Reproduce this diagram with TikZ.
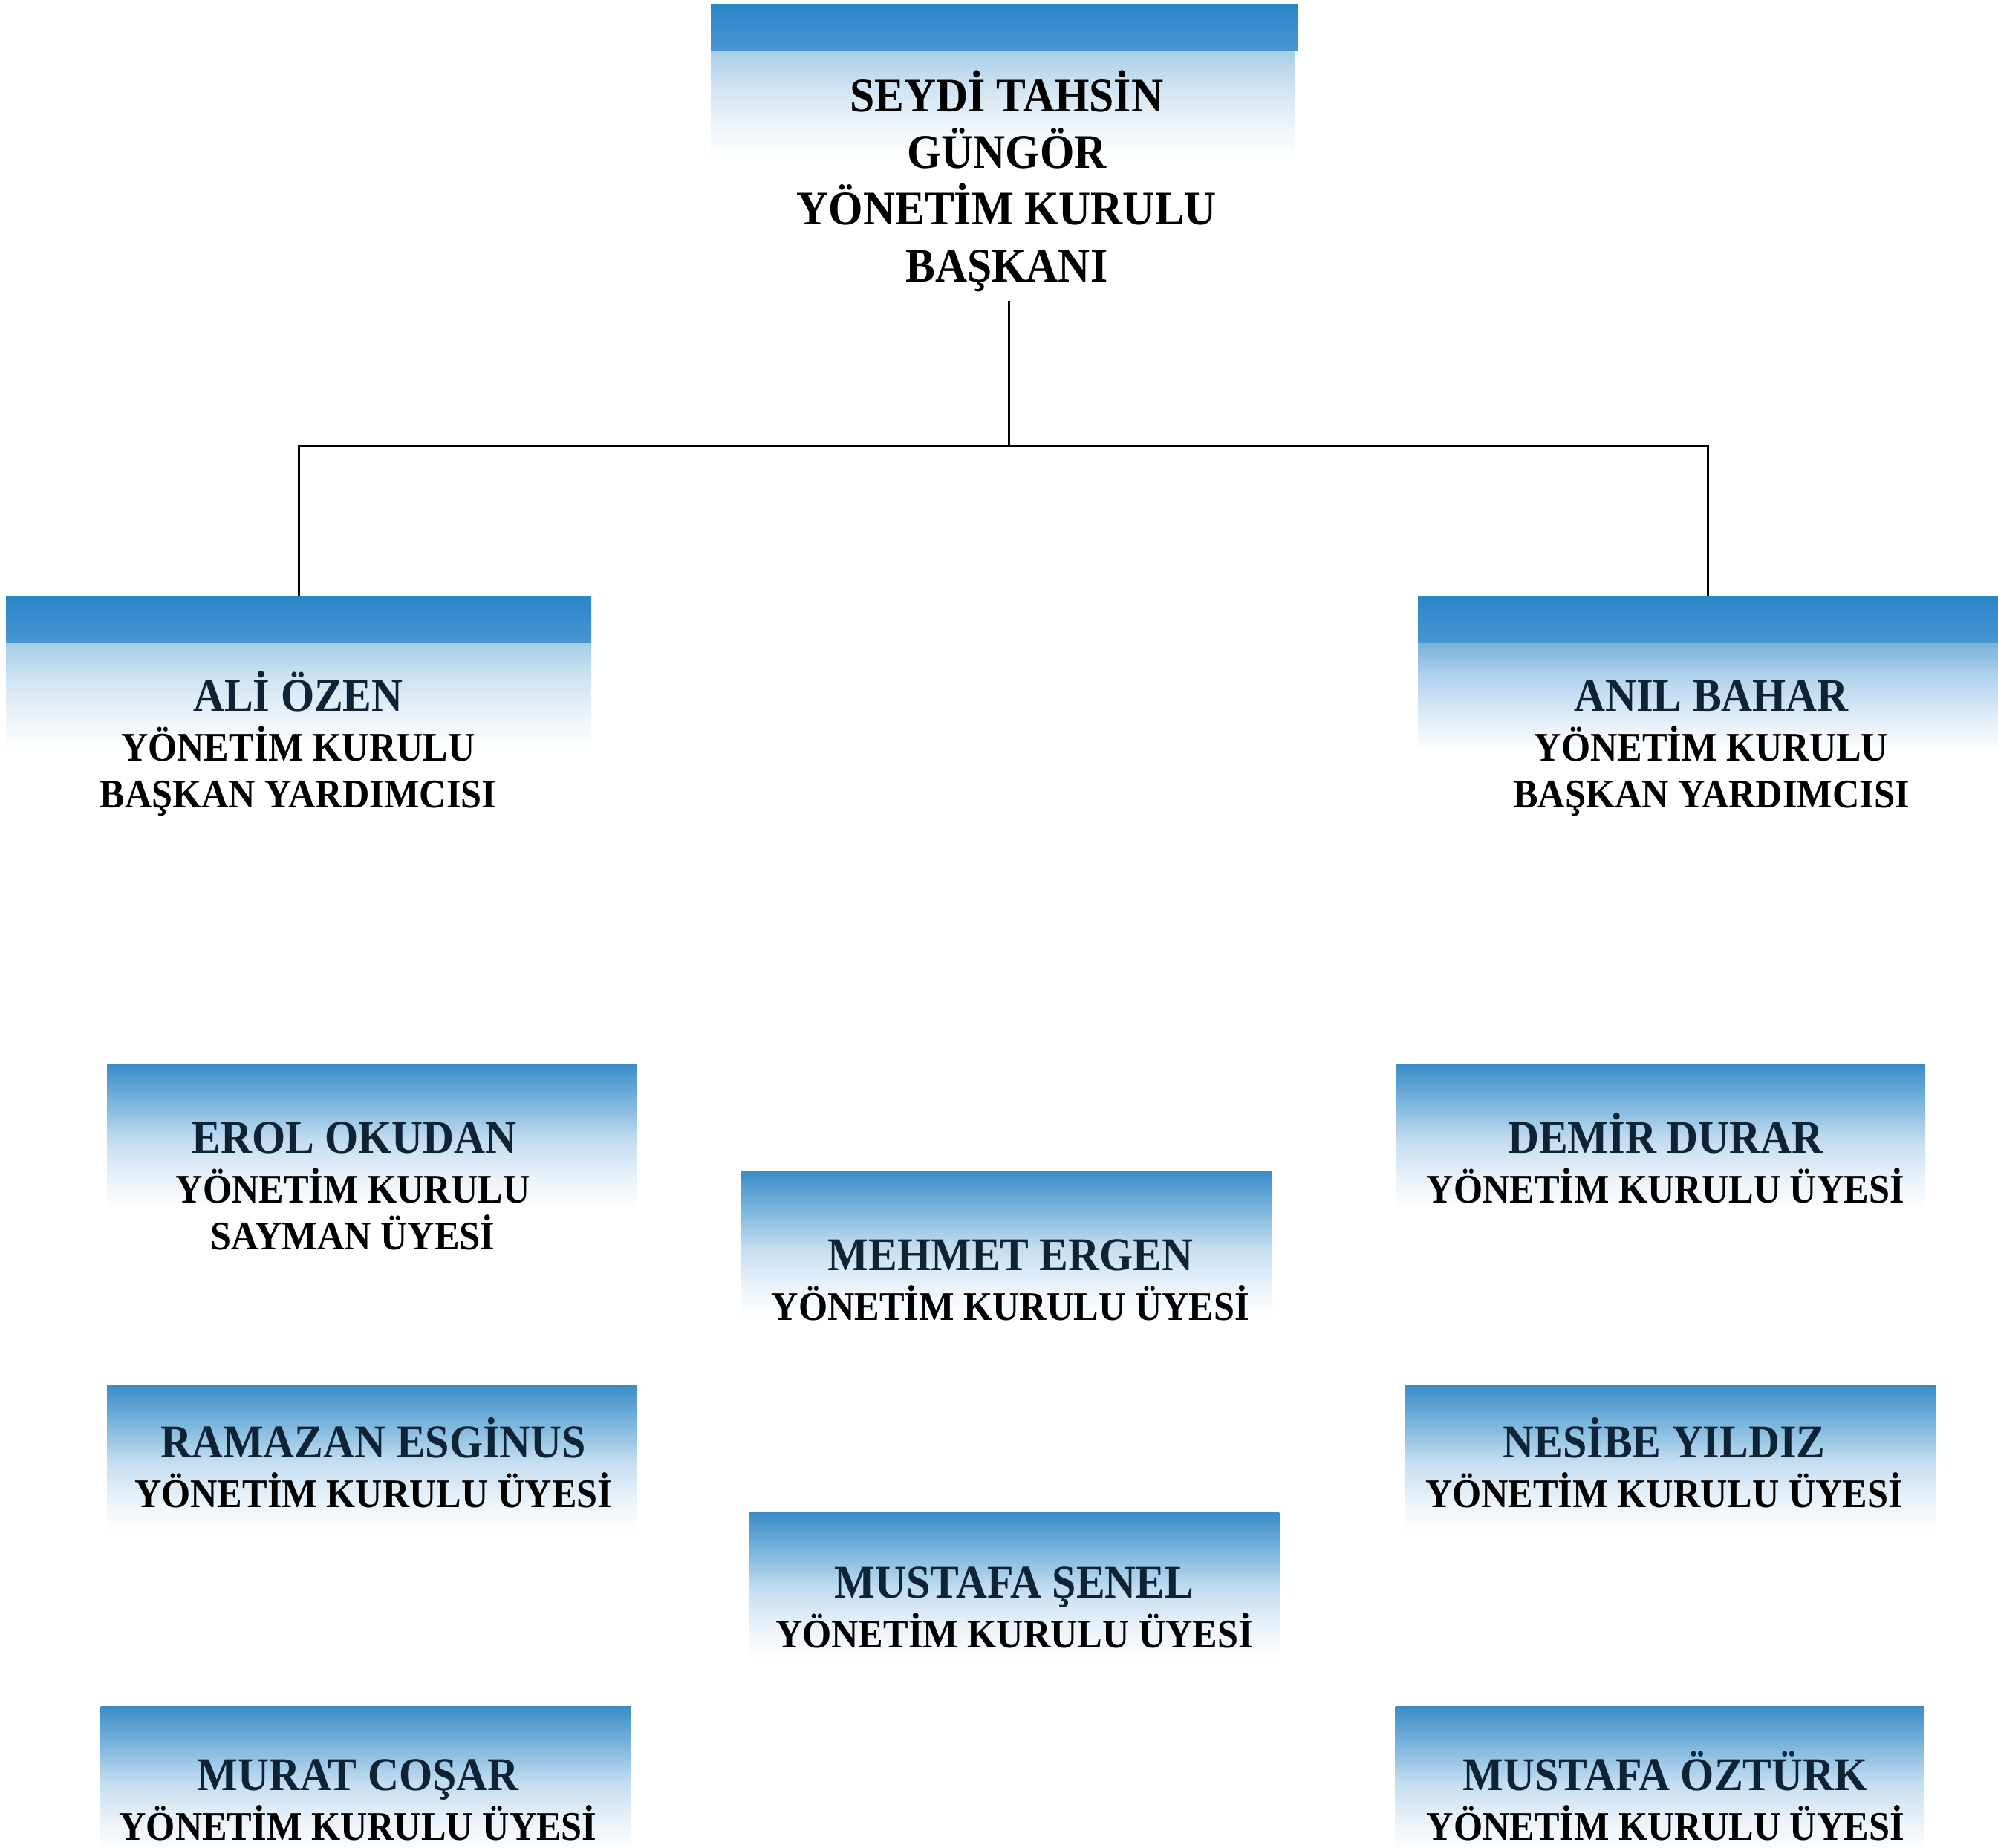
\documentclass[tikz,border=0pt]{standalone}
\usepackage{fontspec}
\setmainfont[FakeStretch=0.92]{Liberation Serif}
\usetikzlibrary{fit}
\definecolor{bandtop}{HTML}{2A86C7}
\definecolor{bandbot}{HTML}{4A95D2}
\definecolor{namecol}{HTML}{0F2337}
\definecolor{paleA}{HTML}{A8CDE8}
\definecolor{paleB}{HTML}{D2E5F3}
\definecolor{paleC}{HTML}{EEF5FB}
\definecolor{deepA}{HTML}{79B2DB}
\definecolor{deepB}{HTML}{B8D6EE}
\definecolor{deepC}{HTML}{E2EFF8}
\definecolor{fadeA}{HTML}{3A8CC8}
\definecolor{fadeB}{HTML}{7AB5DD}
\definecolor{fadeC}{HTML}{C4DDF0}
\definecolor{fadeD}{HTML}{EAF3FA}
\pgfdeclareverticalshading{headfade}{100bp}{color(0bp)=(white); color(27.8bp)=(white); color(41.7bp)=(paleC); color(58.3bp)=(paleB); color(75bp)=(paleA); color(100bp)=(paleA)}
\pgfdeclareverticalshading{headfadedeep}{100bp}{color(0bp)=(white); color(27.8bp)=(white); color(41.7bp)=(deepC); color(58.3bp)=(deepB); color(75bp)=(deepA); color(100bp)=(deepA)}
\pgfdeclareverticalshading{memberfade}{100bp}{color(0bp)=(white); color(30.8bp)=(white); color(40.4bp)=(fadeD); color(51.9bp)=(fadeC); color(63.5bp)=(fadeB); color(75bp)=(fadeA); color(100bp)=(fadeA)}
\begin{document}
\begin{tikzpicture}[x=0.0172cm, y=0.0172cm,
  blueband/.style={inner sep=0pt, top color=bandtop, bottom color=bandbot},
  paleshade/.style={inner sep=0pt, shade, shading=headfade},
  deepshade/.style={inner sep=0pt, shade, shading=headfadedeep},
  memberbox/.style={inner sep=0pt, shade, shading=memberfade},
  chairtext/.style={anchor=base, font=\fontsize{18.5}{22}\selectfont\bfseries},
  nametext/.style={anchor=base, text=namecol, font=\fontsize{18}{22}\selectfont\bfseries},
  titletext/.style={anchor=base, font=\fontsize{15.6}{19}\selectfont\bfseries},
  link/.style={line width=1pt}]
\path[use as bounding box, fill=white] (0,0) rectangle (1568,-1450);

\path node[blueband, fit={(558,-3) (1018,-40)}] (chairband) {}
      node[paleshade, fit={(558,-40) (1016,-130)}] (chairfade) {}
      node[blueband, fit={(5,-468) (464,-505)}] (vpleftband) {}
      node[paleshade, fit={(5,-505) (464,-595)}] (vpleftfade) {}
      node[blueband, fit={(1113,-468) (1568,-505)}] (vprightband) {}
      node[deepshade, fit={(1113,-505) (1568,-595)}] (vprightfade) {}
      node[memberbox, fit={(84,-835) (500,-965)}] (erolbox) {}
      node[memberbox, fit={(84,-1087) (500,-1217)}] (ramazanbox) {}
      node[memberbox, fit={(79,-1339) (495,-1469)}] (muratbox) {}
      node[memberbox, fit={(582,-919) (998,-1049)}] (mehmetbox) {}
      node[memberbox, fit={(588,-1187) (1004,-1317)}] (senelbox) {}
      node[memberbox, fit={(1096,-835) (1511,-965)}] (demirbox) {}
      node[memberbox, fit={(1103,-1087) (1519,-1217)}] (nesibebox) {}
      node[memberbox, fit={(1095,-1339) (1510,-1469)}] (ozturkbox) {};

\path (790,-87.5) node[chairtext] (chair1) {SEYDİ TAHSİN}
      (790,-132) node[chairtext] (chair2) {GÜNGÖR}
      (790,-176.5) node[chairtext] (chair3) {YÖNETİM KURULU}
      (790,-221) node[chairtext] (chair4) {BAŞKANI}
      (234,-558) node[nametext] (vpleft) {ALİ ÖZEN}
      (234,-597) node[titletext] (vplefta) {YÖNETİM KURULU}
      (234,-634) node[titletext] (vpleftb) {BAŞKAN YARDIMCISI}
      (1343,-558) node[nametext] (vpright) {ANIL BAHAR}
      (1343,-597) node[titletext] (vprighta) {YÖNETİM KURULU}
      (1343,-634) node[titletext] (vprightb) {BAŞKAN YARDIMCISI}
      (278,-905) node[nametext] (erol) {EROL OKUDAN}
      (277,-944) node[titletext] (erola) {YÖNETİM KURULU}
      (277,-981) node[titletext] (erolb) {SAYMAN ÜYESİ}
      (293,-1144) node[nametext] (ramazan) {RAMAZAN ESGİNUS}
      (293,-1183) node[titletext] (ramazana) {YÖNETİM KURULU ÜYESİ}
      (281,-1405) node[nametext] (murat) {MURAT COŞAR}
      (281,-1444) node[titletext] (murata) {YÖNETİM KURULU ÜYESİ}
      (793,-997) node[nametext] (mehmet) {MEHMET ERGEN}
      (793,-1036) node[titletext] (mehmeta) {YÖNETİM KURULU ÜYESİ}
      (796,-1254) node[nametext] (senel) {MUSTAFA ŞENEL}
      (796,-1293) node[titletext] (senela) {YÖNETİM KURULU ÜYESİ}
      (1307,-905) node[nametext] (demir) {DEMİR DURAR}
      (1307,-944) node[titletext] (demira) {YÖNETİM KURULU ÜYESİ}
      (1306,-1144) node[nametext] (nesibe) {NESİBE YILDIZ}
      (1306,-1183) node[titletext] (nesibea) {YÖNETİM KURULU ÜYESİ}
      (1307,-1405) node[nametext] (ozturk) {MUSTAFA ÖZTÜRK}
      (1307,-1444) node[titletext] (ozturka) {YÖNETİM KURULU ÜYESİ};

\coordinate (hub) at (792,-350);
\draw[link] (chair4.south -| hub) -- (hub);
\draw[link] (vpleftband.north) |- (hub) -| (vprightband.north);
\end{tikzpicture}
\end{document}
